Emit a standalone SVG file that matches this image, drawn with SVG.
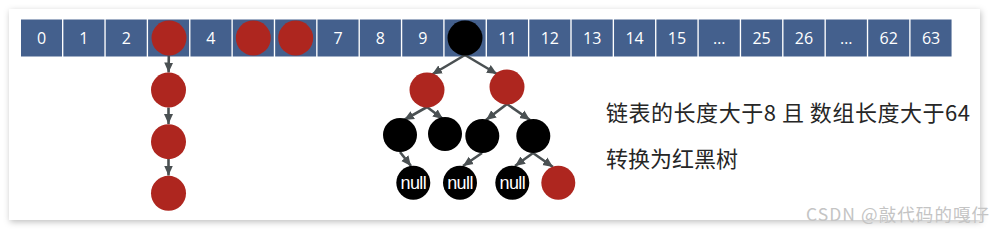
<svg xmlns="http://www.w3.org/2000/svg" width="994" height="233" viewBox="0 0 994 233">
<defs>
<filter id="sh" x="-5%" y="-10%" width="110%" height="125%">
<feDropShadow dx="1" dy="2" stdDeviation="3" flood-color="#000" flood-opacity="0.25"/>
</filter>
<marker id="ah" markerUnits="userSpaceOnUse" markerWidth="10" markerHeight="10" viewBox="0 0 10 10" refX="10" refY="5" orient="auto">
<path d="M0,0.5 L10,5 L0,9.5 z" fill="#4a5052"/>
</marker>
<style>
.cell{fill:#44608d}
.ct{font-family:"Open Sans","Liberation Sans",sans-serif;font-size:16px;fill:#fff;text-anchor:middle}
.red{fill:#ae261f}
.blk{fill:#000}
.nt{font-family:"Liberation Sans",Arial,sans-serif;font-size:18px;fill:#fff;text-anchor:middle;letter-spacing:-0.6px}
.e{stroke:#4a5052;stroke-width:2.6;fill:none;marker-end:url(#ah)}
.lbl{font-family:"Noto Sans CJK SC",sans-serif;font-size:22px;fill:#262626}
.wm{font-family:"Noto Sans CJK SC",sans-serif;font-size:17.5px;fill:#c4c4c4}
</style>
</defs>
<rect width="994" height="233" fill="#fff"/>
<rect x="9" y="9" width="971" height="211" fill="#fff" filter="url(#sh)"/>
<g id="array">
<rect class="cell" x="21" y="19.5" width="41" height="37"/><text class="ct" x="41.5" y="44">0</text>
<rect class="cell" x="63.36" y="19.5" width="41" height="37"/><text class="ct" x="83.86" y="44">1</text>
<rect class="cell" x="105.72" y="19.5" width="41" height="37"/><text class="ct" x="126.22" y="44">2</text>
<rect class="cell" x="148.08" y="19.5" width="41" height="37"/>
<rect class="cell" x="190.44" y="19.5" width="41" height="37"/><text class="ct" x="210.94" y="44">4</text>
<rect class="cell" x="232.8" y="19.5" width="41" height="37"/>
<rect class="cell" x="275.16" y="19.5" width="41" height="37"/>
<rect class="cell" x="317.52" y="19.5" width="41" height="37"/><text class="ct" x="338.02" y="44">7</text>
<rect class="cell" x="359.88" y="19.5" width="41" height="37"/><text class="ct" x="380.38" y="44">8</text>
<rect class="cell" x="402.24" y="19.5" width="41" height="37"/><text class="ct" x="422.74" y="44">9</text>
<rect class="cell" x="444.6" y="19.5" width="41" height="37"/>
<rect class="cell" x="486.96" y="19.5" width="41" height="37"/><text class="ct" x="507.46" y="44">11</text>
<rect class="cell" x="529.32" y="19.5" width="41" height="37"/><text class="ct" x="549.82" y="44">12</text>
<rect class="cell" x="571.68" y="19.5" width="41" height="37"/><text class="ct" x="592.18" y="44">13</text>
<rect class="cell" x="614.04" y="19.5" width="41" height="37"/><text class="ct" x="634.54" y="44">14</text>
<rect class="cell" x="656.4" y="19.5" width="41" height="37"/><text class="ct" x="676.9" y="44">15</text>
<rect class="cell" x="698.76" y="19.5" width="41" height="37"/><text class="ct" x="719.26" y="44">…</text>
<rect class="cell" x="741.12" y="19.5" width="41" height="37"/><text class="ct" x="761.62" y="44">25</text>
<rect class="cell" x="783.48" y="19.5" width="41" height="37"/><text class="ct" x="803.98" y="44">26</text>
<rect class="cell" x="825.84" y="19.5" width="41" height="37"/><text class="ct" x="846.34" y="44">…</text>
<rect class="cell" x="868.2" y="19.5" width="41" height="37"/><text class="ct" x="888.7" y="44">62</text>
<rect class="cell" x="910.56" y="19.5" width="41" height="37"/><text class="ct" x="931.06" y="44">63</text>
</g>
<g id="connectors">
<line class="e" x1="168.8" y1="55.5" x2="168.6" y2="72.5"/>
<line class="e" x1="168.5" y1="107.5" x2="168.5" y2="124"/>
<line class="e" x1="168.5" y1="159" x2="168.5" y2="175.5"/>
<line class="e" x1="465" y1="55" x2="432" y2="74.5"/>
<line class="e" x1="465" y1="55" x2="497" y2="74"/>
<line class="e" x1="427" y1="107" x2="404" y2="120"/>
<line class="e" x1="427" y1="107" x2="443" y2="119"/>
<line class="e" x1="507" y1="104" x2="486" y2="120"/>
<line class="e" x1="507" y1="104" x2="530" y2="120"/>
<line class="e" x1="400" y1="152" x2="411" y2="166"/>
<line class="e" x1="482" y1="153" x2="463" y2="166"/>
<line class="e" x1="533" y1="153" x2="515" y2="166"/>
<line class="e" x1="533" y1="153" x2="553" y2="167"/>
</g>
<g id="n3"><circle class="red" cx="169" cy="38" r="17.5"/></g>
<g id="n5"><circle class="red" cx="253.3" cy="38" r="17.5"/></g>
<g id="n6"><circle class="red" cx="295.7" cy="38" r="17.5"/></g>
<g id="chain1"><circle class="red" cx="168.5" cy="90" r="17.5"/></g>
<g id="chain2"><circle class="red" cx="168.5" cy="141.7" r="17.5"/></g>
<g id="chain3"><circle class="red" cx="168.5" cy="193.3" r="17.5"/></g>
<g id="root"><circle class="blk" cx="465" cy="38" r="17.5"/></g>
<g id="t1l"><circle class="red" cx="427" cy="90" r="17.5"/></g>
<g id="t1r"><circle class="red" cx="507" cy="87" r="17.5"/></g>
<g id="t2a"><circle class="blk" cx="400" cy="135" r="17"/></g>
<g id="t2b"><circle class="blk" cx="445" cy="134" r="17"/></g>
<g id="t2c"><circle class="blk" cx="482.3" cy="136" r="17"/></g>
<g id="t2d"><circle class="blk" cx="533.3" cy="136" r="17"/></g>
<g id="t3a"><circle class="blk" cx="413.3" cy="182.7" r="17"/><text class="nt" x="413.3" y="189">null</text></g>
<g id="t3b"><circle class="blk" cx="460" cy="182.7" r="17"/><text class="nt" x="460" y="189">null</text></g>
<g id="t3c"><circle class="blk" cx="512.3" cy="182.7" r="17"/><text class="nt" x="512.3" y="189">null</text></g>
<g id="t3d"><circle class="red" cx="558.3" cy="182.7" r="17"/></g>
<g id="caption">
<text class="lbl" x="606" y="121" textLength="364" lengthAdjust="spacing">链表的长度大于8 且 数组长度大于64</text>
<text class="lbl" x="606" y="167">转换为红黑树</text>
</g>
<text class="wm" x="806" y="221" textLength="183" lengthAdjust="spacing">CSDN @敲代码的嘎仔</text>
</svg>
